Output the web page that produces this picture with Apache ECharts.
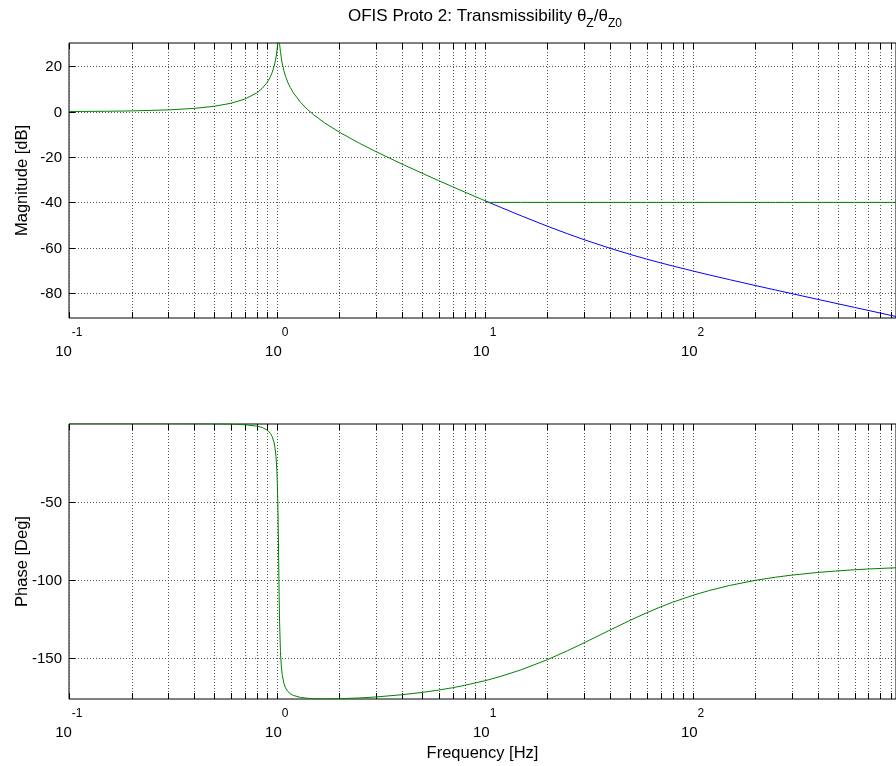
<!DOCTYPE html>
<html><head><meta charset="utf-8">
<script src="https://cdn.jsdelivr.net/npm/echarts@6/dist/echarts.min.js"></script>
<style>html,body{margin:0;padding:0;background:#fff}#c{width:896px;height:766px}</style>
</head><body><div id="c"></div>
<script>
const freqHz = [0.1,0.15,0.2,0.3,0.4,0.5,0.6,0.7,0.8,0.85,0.9,0.93,0.95,0.97,0.98,0.99,1.0,1.005,1.01,1.015,1.02,1.025,1.03,1.04,1.05,1.06,1.08,1.1,1.13,1.16,1.2,1.3,1.4,1.5,1.7,2,2.5,3,4,5,6,7,8,10,10.4,12,15,20,25,30,40,50,60,70,80,100,120,150,200,250,300,400,500,600,700,800,950];
const magGreen = [0.08,0.19,0.34,0.79,1.45,2.39,3.69,5.53,8.29,10.30,13.05,15.38,17.42,20.13,21.88,24.03,26.77,28.36,30.03,31.46,32.04,31.38,29.89,26.54,23.74,21.50,18.13,15.64,12.80,10.65,8.31,4.09,1.08,-1.31,-4.99,-9.07,-13.97,-17.64,-23.10,-27.17,-30.41,-33.11,-35.43,-39.24,-40,-40,-40,-40,-40,-40,-40,-40,-40,-40,-40,-40,-40,-40,-40,-40,-40,-40,-40,-40,-40,-40,-40];
const phaseGreen = [0.02,0.02,0.03,0.02,-0.03,-0.13,-0.33,-0.75,-1.65,-2.55,-4.26,-6.22,-8.45,-12.42,-15.79,-21.12,-30.69,-38.54,-50.16,-66.89,-88.38,-109.68,-126.32,-145.58,-155.01,-160.32,-165.95,-168.86,-171.25,-172.61,-173.71,-175.01,-175.55,-175.80,-175.96,-175.83,-175.33,-174.69,-173.27,-171.79,-170.29,-168.79,-167.28,-164.33,-163.75,-161.45,-157.28,-150.88,-145.16,-140.14,-131.95,-125.72,-120.93,-117.19,-114.21,-109.79,-106.69,-103.49,-100.19,-98.19,-96.84,-95.14,-94.12,-93.43,-92.94,-92.58,-92.16];
const freqBlue = [10,10.4,12,15,20,25,30,40,50,60,70,80,100,120,150,200,250,300,400,500,600,700,800,950];
const magBlue = [-39.24,-39.90,-42.30,-45.97,-50.51,-53.85,-56.44,-60.24,-62.94,-65.01,-66.67,-68.04,-70.25,-71.99,-74.06,-76.67,-78.65,-80.26,-82.79,-84.74,-86.33,-87.67,-88.84,-90.34];
const xGridTicks = [0.1,0.2,0.3,0.4,0.5,0.6,0.7,0.8,0.9,1,2,3,4,5,6,7,8,9,10,20,30,40,50,60,70,80,90,100,200,300,400,500,600,700,800,900];
const magTicks = [-80,-60,-40,-20,0,20];
const phaseTicks = [-150,-100,-50];
const xRange = [0.1, 950];
const magRange = [-91, 30.3];
const phaseRange = [-176, -0.3];

const FONT = '"Liberation Sans", Arial, Helvetica, sans-serif';
const GRIDCOL = '#555';

function pair(xs, ys) { return xs.map((x, i) => [x, ys[i]]); }

function vLines(gi) {
  return {
    type: 'custom', xAxisIndex: gi, yAxisIndex: gi, clip: false, silent: true, z: 1,
    data: xGridTicks.map(v => [v, 0]),
    renderItem: (params, api) => {
      const cs = params.coordSys;
      const px = Math.round(api.coord([api.value(0), 0])[0]) + 0.5;
      const top = cs.y, bot = cs.y + cs.height;
      return { type: 'group', children: [
        { type: 'line', shape: { x1: px, y1: top, x2: px, y2: bot }, style: { stroke: GRIDCOL, lineWidth: 1, lineDash: [1, 2] } },
        { type: 'line', shape: { x1: px, y1: bot - 6, x2: px, y2: bot }, style: { stroke: '#000', lineWidth: 1 } },
        { type: 'line', shape: { x1: px, y1: top, x2: px, y2: top + 6 }, style: { stroke: '#000', lineWidth: 1 } }
      ]};
    }
  };
}

function hLines(gi, ticks) {
  return {
    type: 'custom', xAxisIndex: gi, yAxisIndex: gi, clip: false, silent: true, z: 1,
    data: ticks.map(v => [1, v]),
    renderItem: (params, api) => {
      const cs = params.coordSys;
      const v = api.value(1);
      const py = Math.round(api.coord([1, v])[1]) + 0.5;
      return { type: 'group', children: [
        { type: 'line', shape: { x1: cs.x, y1: py, x2: cs.x + cs.width, y2: py }, style: { stroke: GRIDCOL, lineWidth: 1, lineDash: [1, 2] } },
        { type: 'line', shape: { x1: cs.x, y1: py, x2: cs.x + 6, y2: py }, style: { stroke: '#000', lineWidth: 1 } },
        { type: 'text', style: { text: String(v), x: cs.x - 7, y: py, align: 'right', verticalAlign: 'middle', font: '15px ' + FONT, fill: '#000' } }
      ]};
    }
  };
}

function xLabelFmt(v) {
  const e = Math.log10(v);
  const r = Math.round(e);
  if (Math.abs(e - r) > 1e-6) return '';
  return '{b|10}{s|' + r + '}{h| }';
}

function xAxisCfg(gi, withName) {
  const cfg = {
    type: 'log', logBase: 10, min: xRange[0], max: xRange[1], gridIndex: gi,
    axisLine: { show: false }, axisTick: { show: false }, splitLine: { show: false },
    minorTick: { show: false }, minorSplitLine: { show: false },
    axisLabel: {
      margin: 9, formatter: xLabelFmt, showMaxLabel: false, color: '#000',
      rich: {
        b: { fontSize: 15, fontFamily: FONT, color: '#000', lineHeight: 18, verticalAlign: 'bottom' },
        s: { fontSize: 12, fontFamily: FONT, color: '#000', lineHeight: 13, verticalAlign: 'top' },
        h: { fontSize: 1, lineHeight: 32 }
      }
    }
  };
  if (withName) {
    cfg.name = 'Frequency [Hz]';
    cfg.nameLocation = 'middle';
    cfg.nameGap = 46;
    cfg.nameTextStyle = { fontSize: 16.5, fontFamily: FONT, color: '#000' };
  }
  return cfg;
}

function yAxisCfg(gi, range, name) {
  return {
    type: 'value', gridIndex: gi, min: range[0], max: range[1],
    axisLine: { show: false }, axisTick: { show: false }, splitLine: { show: false }, axisLabel: { show: false },
    name: name, nameLocation: 'middle', nameRotate: 90, nameGap: 38,
    nameTextStyle: { fontSize: 16.5, fontFamily: FONT, color: '#000' }
  };
}

const chart = echarts.init(document.getElementById('c'), null, { renderer: 'canvas' });
chart.setOption({
  animation: false,
  backgroundColor: '#fff',
  title: {
    text: '{a|OFIS Proto 2: Transmissibility θ}{s|Z}{a|/θ}{s|Z0}{h| }',
    left: 348, top: 8, padding: 0,
    textStyle: {
      fontWeight: 'normal',
      rich: {
        a: { fontSize: 17, fontWeight: 'normal', fontFamily: FONT, color: '#000', lineHeight: 20, verticalAlign: 'top' },
        s: { fontSize: 12, fontWeight: 'normal', fontFamily: FONT, color: '#000', lineHeight: 12, verticalAlign: 'bottom' },
        h: { fontSize: 1, lineHeight: 22 }
      }
    }
  },
  grid: [
    { left: 69, top: 43, width: 829, height: 275, show: true, borderColor: '#000', borderWidth: 1, containLabel: false },
    { left: 69, top: 424, width: 829, height: 275, show: true, borderColor: '#000', borderWidth: 1, containLabel: false }
  ],
  xAxis: [xAxisCfg(0, false), xAxisCfg(1, true)],
  yAxis: [yAxisCfg(0, magRange, 'Magnitude [dB]'), yAxisCfg(1, phaseRange, 'Phase [Deg]')],
  series: [
    vLines(0), hLines(0, magTicks), vLines(1), hLines(1, phaseTicks),
    { type: 'line', xAxisIndex: 0, yAxisIndex: 0, data: pair(freqBlue, magBlue), showSymbol: false, symbol: 'none', clip: true, z: 3,
      lineStyle: { color: '#0000ff', width: 1 }, itemStyle: { color: '#0000ff' } },
    { type: 'line', xAxisIndex: 0, yAxisIndex: 0, data: pair(freqHz, magGreen), showSymbol: false, symbol: 'none', clip: true, z: 4,
      lineStyle: { color: '#008000', width: 1 }, itemStyle: { color: '#008000' } },
    { type: 'line', xAxisIndex: 1, yAxisIndex: 1, data: pair(freqHz, phaseGreen), showSymbol: false, symbol: 'none', clip: true, z: 4,
      lineStyle: { color: '#008000', width: 1 }, itemStyle: { color: '#008000' } }
  ]
});
</script></body></html>
